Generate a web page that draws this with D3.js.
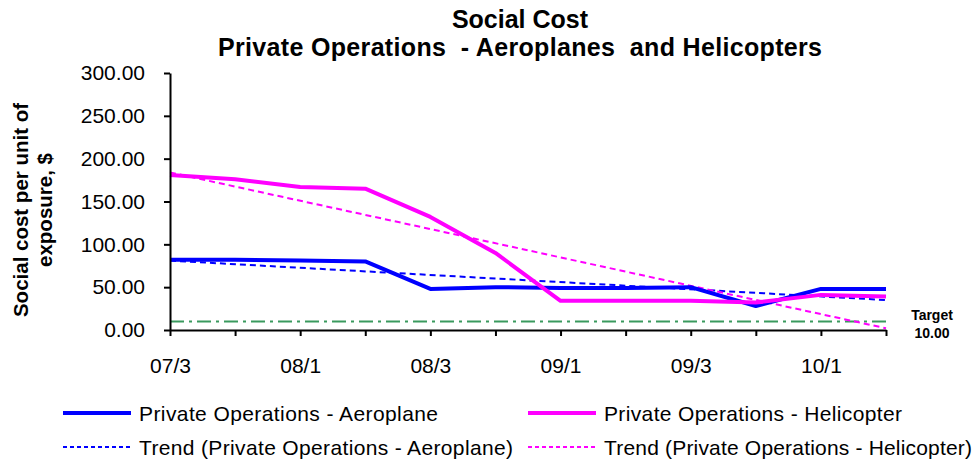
<!DOCTYPE html>
<html>
<head>
<meta charset="utf-8">
<script src="https://cdn.jsdelivr.net/npm/d3@7"></script>
<style>
  html, body { margin: 0; padding: 0; background: #fff; }
  svg { display: block; }
  text { font-family: "Liberation Sans", Arial, sans-serif; fill: #000; }
</style>
</head>
<body>
<svg id="chart" width="978" height="461"></svg>
<script>
// ---- data ----
const categories = ["07/3","07/4","08/1","08/2","08/3","08/4","09/1","09/2","09/3","09/4","10/1","10/2"];
const shownLabels = ["07/3","08/1","08/3","09/1","09/3","10/1"];
const aeroplane = [82, 82, 81, 80, 48, 50, 49, 49, 50, 28, 48, 48];
const helicopter = [181, 176, 167, 165, 132, 90, 34, 34, 34, 32, 41, 39];
const aeroTrend = [81, 35];   // trend line values at first and last period
const heliTrend = [184, 2];
const targetValue = 10;
const yTicks = [0, 50, 100, 150, 200, 250, 300];
const seriesNames = [
  "Private Operations - Aeroplane",
  "Private Operations - Helicopter",
  "Trend (Private Operations - Aeroplane)",
  "Trend (Private Operations - Helicopter)"
];

// ---- layout ----
const svg = d3.select("#chart");
const plotLeft = 170, plotRight = 886, plotTop = 73, plotBottom = 330;
const x = d3.scalePoint().domain(categories).range([plotLeft, plotRight]);
const y = d3.scaleLinear().domain([0, 300]).range([plotBottom, plotTop]);

const BLUE = "#0000ff", PINK = "#ff00ff", GREEN = "#3a9a5e";

// title
svg.append("text").attr("x", 520).attr("y", 28).attr("text-anchor", "middle")
  .style("font-size", "25px").style("font-weight", "bold").text("Social Cost");
svg.append("text").attr("x", 520).attr("y", 56).attr("text-anchor", "middle")
  .style("font-size", "25px").style("font-weight", "bold").style("white-space", "pre")
  .attr("textLength", 604).attr("lengthAdjust", "spacing")
  .text("Private Operations  - Aeroplanes  and Helicopters");

// y axis title
const yt = svg.append("text").attr("transform", "translate(28,210) rotate(-90)")
  .attr("text-anchor", "middle").style("font-size", "20.5px").style("font-weight", "bold");
yt.append("tspan").attr("x", 0).attr("y", 0).text("Social cost per unit of");
yt.append("tspan").attr("x", 0).attr("y", 24).text("exposure, $");

// target line
const line = d3.line().x(d => x(d[0])).y(d => y(d[1]));
const first = categories[0], last = categories[categories.length - 1];
svg.append("path")
  .attr("d", line([[first, targetValue], [last, targetValue]]))
  .attr("fill", "none").attr("stroke", GREEN).attr("stroke-width", 2)
  .attr("stroke-dasharray", "14,5,3,5");

// trend lines
svg.append("path").attr("d", line([[first, aeroTrend[0]], [last, aeroTrend[1]]]))
  .attr("fill", "none").attr("stroke", BLUE).attr("stroke-width", 2).attr("stroke-dasharray", "6,4");
svg.append("path").attr("d", line([[first, heliTrend[0]], [last, heliTrend[1]]]))
  .attr("fill", "none").attr("stroke", PINK).attr("stroke-width", 2).attr("stroke-dasharray", "6,4");

// series lines
svg.append("path").attr("d", line(categories.map((c, i) => [c, aeroplane[i]])))
  .attr("fill", "none").attr("stroke", BLUE).attr("stroke-width", 4).attr("stroke-linejoin", "round");
svg.append("path").attr("d", line(categories.map((c, i) => [c, helicopter[i]])))
  .attr("fill", "none").attr("stroke", PINK).attr("stroke-width", 4).attr("stroke-linejoin", "round");

// y axis
const yAxis = svg.append("g").attr("transform", `translate(${plotLeft},0)`)
  .call(d3.axisLeft(y).tickValues(yTicks).tickFormat(d3.format(".2f"))
    .tickSize(6).tickSizeOuter(0).tickPadding(19));
yAxis.selectAll("text").style("font-size", "21px").style("font-family", "'Liberation Sans', Arial, sans-serif");
yAxis.selectAll("line, path").attr("stroke", "#000").attr("stroke-width", 2);

// x axis
const xAxis = svg.append("g").attr("transform", `translate(0,${plotBottom})`)
  .call(d3.axisBottom(x).tickFormat(d => shownLabels.includes(d) ? d : "")
    .tickSize(6).tickSizeOuter(0).tickPadding(22));
xAxis.selectAll("text").style("font-size", "21px").style("font-family", "'Liberation Sans', Arial, sans-serif");
xAxis.selectAll("line, path").attr("stroke", "#000").attr("stroke-width", 2);

// target label
svg.append("text").attr("x", 932).attr("y", 320).attr("text-anchor", "middle")
  .style("font-size", "14px").style("font-weight", "bold").text("Target");
svg.append("text").attr("x", 932).attr("y", 338).attr("text-anchor", "middle")
  .style("font-size", "14px").style("font-weight", "bold").text(d3.format(".2f")(targetValue));

// legend
const legendItems = [
  { name: seriesNames[0], color: BLUE, w: 4, dash: null, x: 63, y: 413, len: 299 },
  { name: seriesNames[1], color: PINK, w: 4, dash: null, x: 528, y: 413, len: 298 },
  { name: seriesNames[2], color: BLUE, w: 2, dash: "4,3", x: 63, y: 447, len: 374 },
  { name: seriesNames[3], color: PINK, w: 2, dash: "4,3", x: 528, y: 447, len: 368 }
];
const lg = svg.append("g");
legendItems.forEach(it => {
  lg.append("line").attr("x1", it.x).attr("x2", it.x + 68).attr("y1", it.y).attr("y2", it.y)
    .attr("stroke", it.color).attr("stroke-width", it.w)
    .attr("stroke-dasharray", it.dash);
  lg.append("text").attr("x", it.x + 76).attr("y", it.y + 8)
    .attr("textLength", it.len).attr("lengthAdjust", "spacing")
    .style("font-size", "21px").text(it.name);
});
</script>
</body>
</html>
